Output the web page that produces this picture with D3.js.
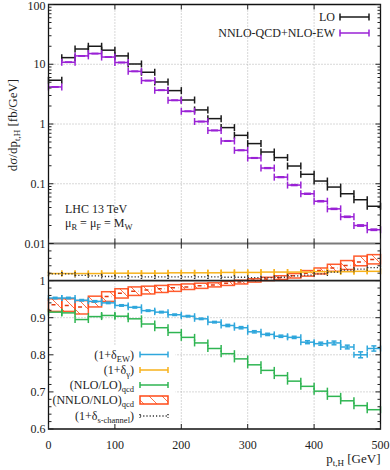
<!DOCTYPE html>
<html>
<head>
<meta charset="utf-8">
<script src="https://cdn.jsdelivr.net/npm/d3@7"></script>
<style>
  body { margin: 0; background: #fff; }
  text { font-family: "Liberation Serif", "DejaVu Serif", serif; fill: #222; }
</style>
</head>
<body>
<svg id="chart" width="390" height="470"></svg>
<script>
// bins of 20 GeV in p_t,H
var binEdges = [0, 20, 40, 60, 80, 100, 120, 140, 160, 180, 200, 220, 240, 260, 280, 300,
                320, 340, 360, 380, 400, 420, 440, 460, 480, 500];

// top panel, dsigma/dpt [fb/GeV]
var loValues = [5.4, 12.9, 18.0, 20.0, 17.2, 13.8, 10.1, 7.35, 5.05, 3.62, 2.52, 1.72, 1.23,
                0.87, 0.646, 0.47, 0.34, 0.274, 0.198, 0.144, 0.111, 0.088, 0.068, 0.054, 0.042];
var nnloValues = [4.17, 10.8, 13.8, 15.1, 13.2, 10.7, 7.6, 5.33, 3.67, 2.49, 1.63, 1.10, 0.78,
                  0.52, 0.363, 0.27, 0.183, 0.129, 0.095, 0.068, 0.051, 0.038, 0.028, 0.020, 0.017];
var nnloRelErr = [0.004, 0.004, 0.004, 0.004, 0.004, 0.005, 0.005, 0.005, 0.006, 0.006, 0.007, 0.008, 0.008,
                  0.01, 0.01, 0.012, 0.015, 0.015, 0.018, 0.018, 0.02, 0.02, 0.022, 0.025, 0.025];

// ratio panel
var ewValues = [0.953, 0.953, 0.947, 0.944, 0.940, 0.933, 0.928, 0.919, 0.915, 0.908, 0.904, 0.897, 0.888,
                0.879, 0.873, 0.862, 0.855, 0.850, 0.847, 0.834, 0.830, 0.832, 0.821, 0.800, 0.817];
var ewErr = [0.002, 0.002, 0.002, 0.002, 0.002, 0.002, 0.002, 0.002, 0.002, 0.002, 0.002, 0.002, 0.002,
             0.003, 0.003, 0.003, 0.003, 0.003, 0.003, 0.004, 0.004, 0.005, 0.005, 0.008, 0.007];
var gammaValues = [1.019, 1.019, 1.019, 1.019, 1.020, 1.020, 1.020, 1.020, 1.020, 1.021, 1.021, 1.021, 1.021,
                   1.022, 1.022, 1.022, 1.023, 1.023, 1.023, 1.023, 1.024, 1.024, 1.024, 1.025, 1.025];
var nloQcdValues = [0.915, 0.913, 0.895, 0.903, 0.906, 0.904, 0.897, 0.883, 0.873, 0.860, 0.847, 0.832, 0.817,
                    0.803, 0.789, 0.773, 0.758, 0.744, 0.729, 0.715, 0.702, 0.688, 0.676, 0.663, 0.652];
var nnloQcdValues = [0.935, 0.933, 0.929, 0.942, 0.957, 0.966, 0.971, 0.975, 0.978, 0.981, 0.983, 0.986, 0.988,
                     0.993, 0.996, 1.001, 1.004, 1.008, 1.013, 1.020, 1.027, 1.034, 1.041, 1.050, 1.057];
var nnloQcdLow = [0.917, 0.917, 0.910, 0.929, 0.944, 0.953, 0.960, 0.964, 0.968, 0.971, 0.976, 0.979, 0.983,
                  0.987, 0.991, 0.996, 1.000, 1.003, 1.007, 1.012, 1.018, 1.025, 1.030, 1.040, 1.045];
var nnloQcdHigh = [0.951, 0.951, 0.946, 0.958, 0.970, 0.978, 0.983, 0.985, 0.987, 0.989, 0.991, 0.993, 0.994,
                   0.998, 1.001, 1.005, 1.009, 1.013, 1.019, 1.027, 1.034, 1.044, 1.054, 1.066, 1.070];
var sChannelValues = [1.018, 1.018, 1.014, 1.013, 1.011, 1.010, 1.010, 1.010, 1.010, 1.010, 1.010, 1.010, 1.010,
                      1.009, 1.009, 1.008, 1.008, 1.009, 1.013, 1.015, 1.018, 1.023, 1.028, 1.031, 1.035];

var xTicks = [0, 100, 200, 300, 400, 500];
var topTicks = [100, 10, 1, 0.1, 0.01];
var topTickLabels = ['100', '10', '1', '0.1', '0.01'];
var ratioTicks = [1, 0.9, 0.8, 0.7, 0.6];
var ratioTickLabels = ['1', '0.9', '0.8', '0.7', '0.6'];

var colors = {
    lo: '#1a1a1a',
    nnlo: '#9a22d6',
    ew: '#2fa7dc',
    gamma: '#f7b21b',
    nloQcd: '#2fb552',
    nnloQcd: '#ff4a17',
    grid: '#b0b0b0'
};

var svg = d3.select('#chart');
var x = d3.scaleLinear().domain([0, 500]).range([48.5, 380.5]);
var yTop = d3.scaleLog().domain([0.01, 100]).range([243.5, 4.5]);
var yRat = d3.scaleLinear().domain([0.6, 1.1]).range([429, 243.5]);
var left = x(0), right = x(500);

var defs = svg.append('defs');
var pat = defs.append('pattern').attr('id', 'hatch').attr('patternUnits', 'userSpaceOnUse')
    .attr('width', 13).attr('height', 13);
pat.append('path').attr('d', 'M-1,-1 L14,14 M-1,12 L1,14 M12,-1 L14,1')
    .attr('stroke', colors.nnloQcd).attr('stroke-width', 0.8);

// grid
var grid = svg.append('g').attr('stroke', colors.grid).attr('stroke-width', 1)
    .attr('stroke-dasharray', '1,2');
[100, 200, 300, 400].forEach(function(d) {
    grid.append('line').attr('x1', x(d)).attr('x2', x(d)).attr('y1', yTop(100)).attr('y2', yRat(0.6));
});
[10, 1, 0.1].forEach(function(d) {
    grid.append('line').attr('x1', left).attr('x2', right).attr('y1', yTop(d)).attr('y2', yTop(d));
});
[0.9, 0.8, 0.7].forEach(function(d) {
    grid.append('line').attr('x1', left).attr('x2', right).attr('y1', yRat(d)).attr('y2', yRat(d));
});

function steps(values, yScale, color, capH, width, dash) {
    var g = svg.append('g').attr('stroke', color).attr('stroke-width', width).attr('fill', 'none');
    if (dash) g.attr('stroke-dasharray', dash);
    values.forEach(function(v, i) {
        var x0 = x(binEdges[i]), x1 = x(binEdges[i + 1]), yy = yScale(v);
        g.append('line').attr('x1', x0).attr('x2', x1).attr('y1', yy).attr('y2', yy);
        g.append('line').attr('x1', x0).attr('x2', x0).attr('y1', yy - capH).attr('y2', yy + capH);
        g.append('line').attr('x1', x1).attr('x2', x1).attr('y1', yy - capH).attr('y2', yy + capH);
    });
    return g;
}

function errBars(values, lows, highs, yScale, color, capW) {
    var g = svg.append('g').attr('stroke', color).attr('stroke-width', 1.5);
    values.forEach(function(v, i) {
        var xm = x((binEdges[i] + binEdges[i + 1]) / 2);
        var ya = yScale(lows[i]), yb = yScale(highs[i]);
        g.append('line').attr('x1', xm).attr('x2', xm).attr('y1', ya).attr('y2', yb);
        g.append('line').attr('x1', xm - capW).attr('x2', xm + capW).attr('y1', ya).attr('y2', ya);
        g.append('line').attr('x1', xm - capW).attr('x2', xm + capW).attr('y1', yb).attr('y2', yb);
    });
}

// top panel
steps(loValues, yTop, colors.lo, 3.5, 1.5);
steps(nnloValues, yTop, colors.nnlo, 3.5, 1.5);
errBars(nnloValues,
    nnloValues.map(function(v, i) { return v * (1 - nnloRelErr[i]); }),
    nnloValues.map(function(v, i) { return v * (1 + nnloRelErr[i]); }),
    yTop, colors.nnlo, 3.5);

// ratio panel
var band = svg.append('g');
nnloQcdValues.forEach(function(v, i) {
    var x0 = x(binEdges[i]), x1 = x(binEdges[i + 1]);
    band.append('rect').attr('x', x0).attr('width', x1 - x0)
        .attr('y', yRat(nnloQcdHigh[i])).attr('height', yRat(nnloQcdLow[i]) - yRat(nnloQcdHigh[i]))
        .attr('fill', 'url(#hatch)').attr('stroke', colors.nnloQcd).attr('stroke-width', 1.5)
        .attr('stroke-opacity', 0.9);
    band.append('line').attr('x1', x0 + 3).attr('x2', x1 - 3).attr('y1', yRat(v)).attr('y2', yRat(v))
        .attr('stroke', '#e33a10').attr('stroke-width', 1.5).attr('stroke-dasharray', '4,3');
});
steps(ewValues, yRat, colors.ew, 3, 1.5);
errBars(ewValues,
    ewValues.map(function(v, i) { return v - ewErr[i]; }),
    ewValues.map(function(v, i) { return v + ewErr[i]; }),
    yRat, colors.ew, 2.5);
steps(gammaValues, yRat, colors.gamma, 3, 1.5);
steps(nloQcdValues, yRat, colors.nloQcd, 3.5, 1.5);
steps(sChannelValues, yRat, '#333', 2, 1.3, '1.2,2');

// legend background in ratio panel
svg.append('rect').attr('x', left + 1).attr('y', 346).attr('width', 126).attr('height', 78).attr('fill', '#fff');

// frame and ticks
var frame = svg.append('g').attr('fill', 'none');
frame.append('path').attr('d', 'M' + left + ',' + yRat(0.6) + 'V' + yTop(100) + 'H' + right + 'V' + yRat(0.6) + 'Z')
    .attr('stroke', '#111').attr('stroke-width', 1.3);
frame.append('line').attr('x1', left).attr('x2', right).attr('y1', yTop(0.01)).attr('y2', yTop(0.01))
    .attr('stroke', '#7a7a7a').attr('stroke-width', 2);
frame.append('line').attr('x1', left).attr('x2', right).attr('y1', yRat(1)).attr('y2', yRat(1))
    .attr('stroke', '#222').attr('stroke-width', 1.8);

var ticks = svg.append('g').attr('stroke', '#222').attr('stroke-width', 1);
function yTick(yy, len) {
    ticks.append('line').attr('x1', left).attr('x2', left + len).attr('y1', yy).attr('y2', yy);
    ticks.append('line').attr('x1', right).attr('x2', right - len).attr('y1', yy).attr('y2', yy);
}
topTicks.forEach(function(d) {
    yTick(yTop(d), 5);
    if (d < 100) {
        for (var k = 2; k <= 9; k++) yTick(yTop(d * k), 3);
    }
});
for (var r = 0; r <= 25; r++) {
    var rv = 0.6 + r * 0.02;
    if (r % 5 === 0) yTick(yRat(rv), 5); else yTick(yRat(rv), 3);
}
xTicks.forEach(function(d) {
    ticks.append('line').attr('x1', x(d)).attr('x2', x(d)).attr('y1', yRat(0.6)).attr('y2', yRat(0.6) - 5);
    ticks.append('line').attr('x1', x(d)).attr('x2', x(d)).attr('y1', yTop(100)).attr('y2', yTop(100) + 5);
    ticks.append('line').attr('x1', x(d)).attr('x2', x(d)).attr('y1', yTop(0.01) - 5).attr('y2', yTop(0.01) + 5);
});

// tick labels
var fs = 12;
topTicks.forEach(function(d, i) {
    var yy = yTop(d) + 4;
    if (d === 100) yy = yTop(d) + 5.5;
    svg.append('text').attr('x', left - 3).attr('y', yy).attr('text-anchor', 'end')
        .attr('font-size', fs).text(topTickLabels[i]);
});
ratioTicks.forEach(function(d, i) {
    svg.append('text').attr('x', left - 3).attr('y', yRat(d) + 4).attr('text-anchor', 'end')
        .attr('font-size', fs).text(ratioTickLabels[i]);
});
xTicks.forEach(function(d) {
    svg.append('text').attr('x', x(d)).attr('y', 449).attr('text-anchor', 'middle')
        .attr('font-size', fs).text(d);
});

// axis titles
var yl = svg.append('text').attr('transform', 'translate(17,125) rotate(-90)')
    .attr('text-anchor', 'middle').attr('font-size', 13);
yl.append('tspan').text('dσ/dp');
yl.append('tspan').attr('dy', 3).attr('font-size', 9).text('t,H');
yl.append('tspan').attr('dy', -3).text(' [fb/GeV]');

var xl = svg.append('text').attr('x', right).attr('y', 463).attr('text-anchor', 'end').attr('font-size', 13);
xl.append('tspan').text('p');
xl.append('tspan').attr('dy', 3).attr('font-size', 9).text('t,H');
xl.append('tspan').attr('dy', -3).text(' [GeV]');

// annotation
svg.append('text').attr('x', 65).attr('y', 213).attr('font-size', 12).text('LHC 13 TeV');
var mu = svg.append('text').attr('x', 65).attr('y', 226.5).attr('font-size', 12);
mu.append('tspan').text('μ');
mu.append('tspan').attr('dy', 3).attr('font-size', 8.5).text('R');
mu.append('tspan').attr('dy', -3).text(' = μ');
mu.append('tspan').attr('dy', 3).attr('font-size', 8.5).text('F');
mu.append('tspan').attr('dy', -3).text(' = M');
mu.append('tspan').attr('dy', 3).attr('font-size', 8.5).text('W');

// legends
function sampleBar(y0, x0, x1, color, capH, dash) {
    var g = svg.append('g').attr('stroke', color).attr('stroke-width', 1.5);
    if (dash) g.attr('stroke-dasharray', dash);
    g.append('line').attr('x1', x0).attr('x2', x1).attr('y1', y0).attr('y2', y0);
    g.append('line').attr('x1', x0).attr('x2', x0).attr('y1', y0 - capH).attr('y2', y0 + capH);
    g.append('line').attr('x1', x1).attr('x2', x1).attr('y1', y0 - capH).attr('y2', y0 + capH);
}

svg.append('text').attr('x', 335).attr('y', 21).attr('text-anchor', 'end').attr('font-size', 12).text('LO');
sampleBar(17, 340, 369, colors.lo, 3.5);
svg.append('text').attr('x', 335).attr('y', 37).attr('text-anchor', 'end').attr('font-size', 12).text('NNLO-QCD+NLO-EW');
sampleBar(33, 340, 369, colors.nnlo, 3.5);

var legRows = [
    {main: '(1+δ', sub: 'EW', tail: ')', y: 354.5},
    {main: '(1+δ', sub: 'γ', tail: ')', y: 370},
    {main: '(NLO/LO)', sub: 'qcd', tail: '', y: 385},
    {main: '(NNLO/NLO)', sub: 'qcd', tail: '', y: 400},
    {main: '(1+δ', sub: 's-channel', tail: ')', y: 416}
];
legRows.forEach(function(row) {
    var t = svg.append('text').attr('x', 134).attr('y', row.y + 4).attr('text-anchor', 'end').attr('font-size', 12);
    t.append('tspan').text(row.main);
    t.append('tspan').attr('dy', 3).attr('font-size', 8.5).text(row.sub);
    if (row.tail) t.append('tspan').attr('dy', -3).text(row.tail);
});
sampleBar(354.5, 140, 168, colors.ew, 3);
sampleBar(370, 140, 168, colors.gamma, 3);
sampleBar(385, 140, 168, colors.nloQcd, 3);
svg.append('rect').attr('x', 140).attr('y', 396).attr('width', 28).attr('height', 8)
    .attr('fill', 'url(#hatch)').attr('stroke', colors.nnloQcd).attr('stroke-width', 1.5);
sampleBar(416, 140, 168, '#333', 2, '1.2,2');
</script>
</body>
</html>
